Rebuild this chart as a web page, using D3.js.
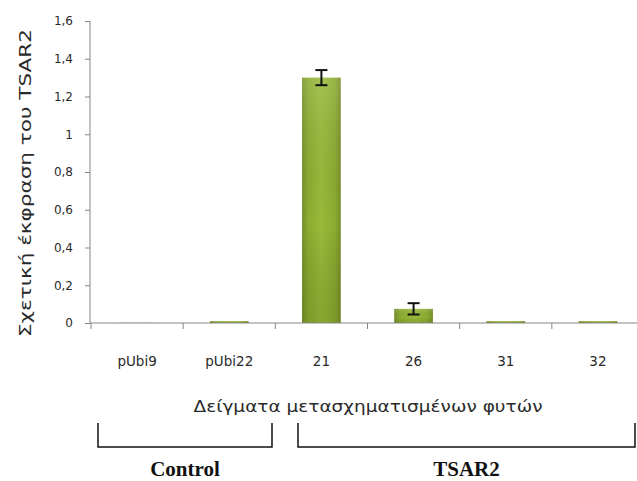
<!DOCTYPE html>
<html>
<head>
<meta charset="utf-8">
<script src="https://cdn.jsdelivr.net/npm/d3@7"></script>
<style>
  html, body { margin: 0; padding: 0; background: #fff; }
  svg { display: block; }
</style>
</head>
<body>
<svg id="chart" width="637" height="481"></svg>
<script>
// Relative TSAR2 expression per plant sample
const categories = ["pUbi9", "pUbi22", "21", "26", "31", "32"];
const values = [0.001, 0.01, 1.30, 0.075, 0.01, 0.01];
const errors = [0, 0, 0.04, 0.03, 0, 0];
const yTicks = [0, 0.2, 0.4, 0.6, 0.8, 1, 1.2, 1.4, 1.6];
const groups = [
  { name: "Control", from: "pUbi9", to: "pUbi22" },
  { name: "TSAR2", from: "21", to: "32" }
];
const yTitle = "Σχετική έκφραση του TSAR2";
const xTitle = "Δείγματα μετασχηματισμένων φυτών";

const svg = d3.select("#chart");
const W = 637, H = 481;
const plot = { left: 90, top: 21, bottom: 323, right: 644 };

const greekLocale = d3.formatLocale({ decimal: ",", thousands: ".", grouping: [3], currency: ["", "€"] });
const fmt = greekLocale.format("~g");

const y = d3.scaleLinear().domain([0, 1.6]).range([plot.bottom, plot.top]);
const xSlots = d3.scaleBand().domain(categories).range([plot.left + 1, plot.right]).padding(0);
const xBars = d3.scaleBand().domain(categories).range([plot.left + 1, plot.right])
  .paddingInner(0.58).paddingOuter(0.29);

// Bar fill: darker sides, lighter centre
const defs = svg.append("defs");
const grad = defs.append("linearGradient").attr("id", "barFill")
  .attr("x1", "0").attr("x2", "1").attr("y1", "0").attr("y2", "0");
grad.append("stop").attr("offset", "0%").attr("stop-color", "#768f2a");
grad.append("stop").attr("offset", "15%").attr("stop-color", "#8cab30");
grad.append("stop").attr("offset", "50%").attr("stop-color", "#9aba3a");
grad.append("stop").attr("offset", "85%").attr("stop-color", "#8cab30");
grad.append("stop").attr("offset", "100%").attr("stop-color", "#768f2a");
const shade = defs.append("linearGradient").attr("id", "barShade")
  .attr("x1", "0").attr("x2", "0").attr("y1", "0").attr("y2", "1");
shade.append("stop").attr("offset", "0%").attr("stop-color", "#ffffff").attr("stop-opacity", 0.12);
shade.append("stop").attr("offset", "60%").attr("stop-color", "#000000").attr("stop-opacity", 0.0);
shade.append("stop").attr("offset", "100%").attr("stop-color", "#3a4a00").attr("stop-opacity", 0.18);

// Bars
const bars = svg.append("g");
bars.selectAll("rect.bar").data(categories).join("rect")
  .attr("class", "bar")
  .attr("x", d => xBars(d))
  .attr("width", xBars.bandwidth())
  .attr("y", (d, i) => y(values[i]))
  .attr("height", (d, i) => y(0) - y(values[i]))
  .attr("fill", "url(#barFill)");
bars.selectAll("rect.shade").data(categories).join("rect")
  .attr("class", "shade")
  .attr("x", d => xBars(d))
  .attr("width", xBars.bandwidth())
  .attr("y", (d, i) => y(values[i]))
  .attr("height", (d, i) => y(0) - y(values[i]))
  .attr("fill", "url(#barShade)");

// Error bars
const capHalf = 6;
const err = svg.append("g").attr("stroke", "#111").attr("stroke-width", 2);
categories.forEach((c, i) => {
  if (!errors[i]) return;
  const cx = xBars(c) + xBars.bandwidth() / 2;
  const yt = y(values[i] + errors[i]), yb = y(values[i] - errors[i]);
  err.append("line").attr("x1", cx).attr("x2", cx).attr("y1", yt).attr("y2", yb);
  err.append("line").attr("x1", cx - capHalf).attr("x2", cx + capHalf).attr("y1", yt).attr("y2", yt);
  err.append("line").attr("x1", cx - capHalf).attr("x2", cx + capHalf).attr("y1", yb).attr("y2", yb);
});

// Y axis
const yAxis = svg.append("g").attr("transform", `translate(${plot.left},0)`)
  .call(d3.axisLeft(y).tickValues(yTicks).tickFormat(fmt).tickSize(5).tickPadding(12));
yAxis.select(".domain").attr("stroke", "#868686").attr("d", `M0,${plot.top}V${plot.bottom}`);
yAxis.selectAll(".tick line").attr("stroke", "#868686");
yAxis.selectAll("text").attr("font-family", "DejaVu Sans, sans-serif").attr("font-size", 12).attr("fill", "#2a2a2a");

// X axis: line, slot boundary ticks, centred labels
const xAxis = svg.append("g").attr("transform", `translate(0,${plot.bottom})`)
  .call(d3.axisBottom(xBars).tickSize(0).tickPadding(0).tickSizeOuter(0));
xAxis.select(".domain").remove();
xAxis.selectAll(".tick text")
  .attr("font-family", "DejaVu Sans, sans-serif").attr("font-size", 13.5).attr("fill", "#2a2a2a")
  .attr("dy", 0).attr("y", 43);
xAxis.selectAll(".tick").attr("transform", d => `translate(${xBars(d) + xBars.bandwidth() / 2},0)`);
svg.append("line").attr("x1", plot.left).attr("x2", W).attr("y1", plot.bottom).attr("y2", plot.bottom)
  .attr("stroke", "#868686");
svg.append("g").selectAll("line").data(categories).join("line")
  .attr("x1", d => xSlots(d)).attr("x2", d => xSlots(d))
  .attr("y1", plot.bottom).attr("y2", plot.bottom + 6)
  .attr("stroke", "#868686");

// Axis titles
svg.append("text")
  .attr("transform", `translate(31,${(28 + 338) / 2}) rotate(-90)`)
  .attr("text-anchor", "middle")
  .attr("font-family", "DejaVu Sans, sans-serif").attr("font-size", 15.5).attr("fill", "#2a2a2a")
  .attr("textLength", 308).attr("lengthAdjust", "spacingAndGlyphs")
  .text(yTitle);
svg.append("text")
  .attr("x", 368).attr("y", 412)
  .attr("text-anchor", "middle")
  .attr("font-family", "DejaVu Sans, sans-serif").attr("font-size", 15).attr("fill", "#2a2a2a")
  .attr("textLength", 349).attr("lengthAdjust", "spacingAndGlyphs")
  .text(xTitle);

// Group brackets
const bracketTop = 423, bracketBottom = 447;
const bracketX = {
  Control: [98, 272],
  TSAR2: [298, 635]
};
const gb = svg.append("g");
groups.forEach(g => {
  const [x0, x1] = bracketX[g.name];
  gb.append("path")
    .attr("d", `M${x0},${bracketTop}V${bracketBottom}H${x1}V${bracketTop}`)
    .attr("fill", "none").attr("stroke", "#111").attr("stroke-width", 1.5);
  gb.append("text")
    .attr("x", (x0 + x1) / 2).attr("y", 476)
    .attr("text-anchor", "middle")
    .attr("font-family", "Liberation Serif, serif").attr("font-weight", "bold")
    .attr("font-size", 21).attr("fill", "#111")
    .text(g.name);
});
</script>
</body>
</html>
